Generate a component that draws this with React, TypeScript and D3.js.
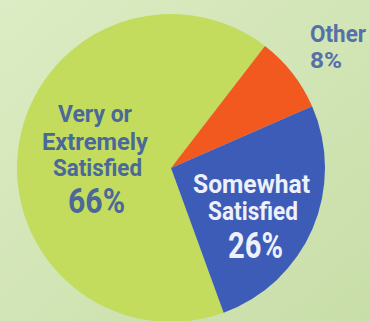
import React from "react";
import * as d3 from "d3";

const categories = ["Very or Extremely Satisfied", "Other", "Somewhat Satisfied"];
const values = [66, 8, 26];
const labelLines = [["Very or", "Extremely", "Satisfied"], ["Other"], ["Somewhat", "Satisfied"]];
const colors = ["#c3dc5e", "#f2591f", "#3d5cb8"];

const W = 370;
const H = 321;
const FONT = "Roboto, 'DejaVu Sans Condensed', sans-serif";

type Lbl = { t: string; x: number; y: number; w: number; fs: number };

export default function App() {
  const cx = 171;
  const cy = 168;
  const r = 154;
  const start = (160 * Math.PI) / 180;
  const pie = d3
    .pie<number>()
    .sort(null)
    .startAngle(start)
    .endAngle(start + 2 * Math.PI);
  const arcs = pie(values);
  const arc = d3.arc<d3.PieArcDatum<number>>().innerRadius(0).outerRadius(r);

  const green: Lbl[] = [
    { t: labelLines[0][0], x: 58, y: 122, w: 74, fs: 24 },
    { t: labelLines[0][1], x: 42, y: 150, w: 106, fs: 24 },
    { t: labelLines[0][2], x: 53, y: 176, w: 89, fs: 24 },
    { t: `${values[0]}%`, x: 68, y: 213, w: 57, fs: 35 },
  ];
  const blue: Lbl[] = [
    { t: labelLines[2][0], x: 193, y: 193, w: 117, fs: 26 },
    { t: labelLines[2][1], x: 208, y: 220, w: 90, fs: 26 },
    { t: `${values[2]}%`, x: 228, y: 258, w: 55, fs: 36 },
  ];
  const other: Lbl[] = [
    { t: labelLines[1][0], x: 310, y: 42, w: 56, fs: 23 },
    { t: `${values[1]}%`, x: 310, y: 68, w: 32, fs: 22 },
  ];
  const render = (list: Lbl[]) =>
    list.map((l) => (
      <text
        key={l.t + l.y}
        x={l.x}
        y={l.y}
        fontSize={l.fs}
        textLength={l.w}
        lengthAdjust="spacingAndGlyphs"
      >
        {l.t}
      </text>
    ));

  return (
    <svg
      width={W}
      height={H}
      style={{ position: "absolute", left: 0, top: 0 }}
      fontFamily={FONT}
      fontWeight="bold"
    >
      <defs>
        <linearGradient id="bg" x1="0" y1="0" x2="1" y2="1">
          <stop offset="0" stopColor="#dcecc4" />
          <stop offset="1" stopColor="#c8dea8" />
        </linearGradient>
      </defs>
      <rect width={W} height={H} fill="url(#bg)" />
      <g transform={`translate(${cx},${cy})`}>
        {arcs.map((a, i) => (
          <path key={categories[i]} d={arc(a) || ""} fill={colors[i]} />
        ))}
      </g>
      <g fill="#4a6899">{render(green)}</g>
      <g fill="#eef0fa">{render(blue)}</g>
      <g fill="#5670a8">{render(other)}</g>
    </svg>
  );
}
